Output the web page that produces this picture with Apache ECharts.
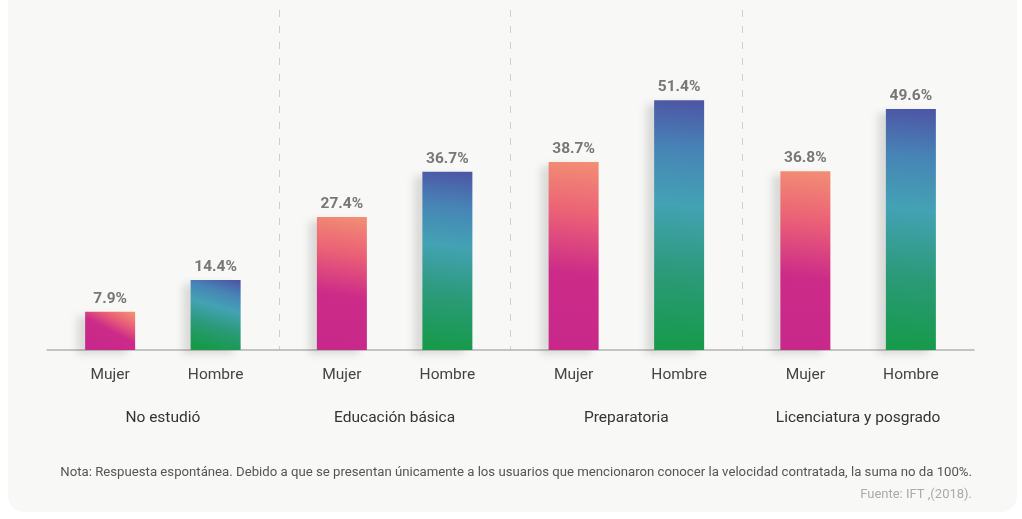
<!DOCTYPE html>
<html>
<head>
<meta charset="utf-8">
<script src="https://cdn.jsdelivr.net/npm/echarts@6/dist/echarts.min.js"></script>
<style>
  html, body { margin: 0; padding: 0; background: #ffffff; }
  #card { position: absolute; left: 8px; top: -20px; width: 1009px; height: 532px; background: #f8f8f6; border-radius: 16px; }
  #chart { position: absolute; left: 0; top: 0; width: 1022px; height: 519px; }
</style>
</head>
<body>
<div id="card"></div>
<div id="chart"></div>
<script>
// datos
var grupos = ['No estudió', 'Educación básica', 'Preparatoria', 'Licenciatura y posgrado'];
var mujer = [7.9, 27.4, 38.7, 36.8];
var hombre = [14.4, 36.7, 51.4, 49.6];
var nota = 'Nota: Respuesta espontánea. Debido a que se presentan únicamente a los usuarios que mencionaron conocer la velocidad contratada, la suma no da 100%.';
var fuente = 'Fuente: IFT ,(2018).';

var fontName = 'Roboto';

var colorMujer = new echarts.graphic.LinearGradient(0.9, 0, 0.5, 1, [
  { offset: 0, color: '#f28e74' },
  { offset: 0.28, color: '#eb6176' },
  { offset: 0.6, color: '#cc2b88' },
  { offset: 1, color: '#c8288a' }
]);
var colorHombre = new echarts.graphic.LinearGradient(0.9, 0, 0.5, 1, [
  { offset: 0, color: '#4d55a5' },
  { offset: 0.2, color: '#4784b6' },
  { offset: 0.42, color: '#43a2b4' },
  { offset: 0.7, color: '#2b9a78' },
  { offset: 1, color: '#169a4a' }
]);

var sombra = {
  shadowBlur: 8,
  shadowOffsetX: -8,
  shadowOffsetY: 4,
  shadowColor: 'rgba(0,0,0,0.12)'
};

function serieBarra(nombre, datos, color, pila) {
  return {
    name: nombre,
    type: 'bar',
    stack: pila,
    barWidth: 50,
    barGap: '111%',
    data: datos,
    itemStyle: Object.assign({ color: color }, sombra),
    label: {
      show: true,
      position: 'bottom',
      distance: 17,
      formatter: nombre,
      color: '#444',
      fontSize: 15.5,
      fontFamily: fontName
    },
    emphasis: { disabled: true }
  };
}

// serie auxiliar (valor 0) para poner el porcentaje encima de cada barra
function serieEtiqueta(datos, pila) {
  return {
    type: 'bar',
    stack: pila,
    barWidth: 50,
    barGap: '111%',
    data: datos.map(function () { return 0; }),
    itemStyle: { color: 'transparent' },
    label: {
      show: true,
      position: 'top',
      distance: 5,
      formatter: function (p) { return datos[p.dataIndex].toFixed(1) + '%'; },
      color: '#777',
      fontSize: 15.5,
      fontWeight: 'bold',
      fontFamily: fontName
    },
    emphasis: { disabled: true },
    silent: true
  };
}

var chart = echarts.init(document.getElementById('chart'));
chart.setOption({
  animation: false,
  textStyle: { fontFamily: fontName },
  title: [
    { text: nota, right: 45, top: 461, textStyle: { fontSize: 13.2, fontWeight: 'normal', color: '#555', fontFamily: fontName } },
    { text: fuente, right: 45, top: 483, textStyle: { fontSize: 13, fontWeight: 'normal', color: '#aaa', fontFamily: fontName } }
  ],
  grid: { left: 47, right: 48, top: 10, bottom: 169 },
  xAxis: [
    {
      type: 'category',
      data: grupos,
      axisLine: { lineStyle: { color: '#b3b3b3', width: 1.5 } },
      axisTick: { show: false },
      axisLabel: { margin: 60, color: '#333', fontSize: 15.5, fontFamily: fontName },
      splitLine: { show: false }
    },
    {
      type: 'value',
      min: 0,
      max: 4,
      interval: 1,
      position: 'top',
      axisLine: { show: false },
      axisTick: { show: false },
      axisLabel: { show: false },
      splitLine: {
        show: true,
        showMinLine: false,
        showMaxLine: false,
        lineStyle: { color: '#cfcfcf', width: 1, type: [7, 9] }
      }
    }
  ],
  yAxis: {
    type: 'value',
    min: 0,
    max: 70,
    show: false,
    splitLine: { show: false }
  },
  series: [
    serieBarra('Mujer', mujer, colorMujer, 'm'),
    serieEtiqueta(mujer, 'm'),
    serieBarra('Hombre', hombre, colorHombre, 'h'),
    serieEtiqueta(hombre, 'h')
  ]
});
</script>
</body>
</html>
